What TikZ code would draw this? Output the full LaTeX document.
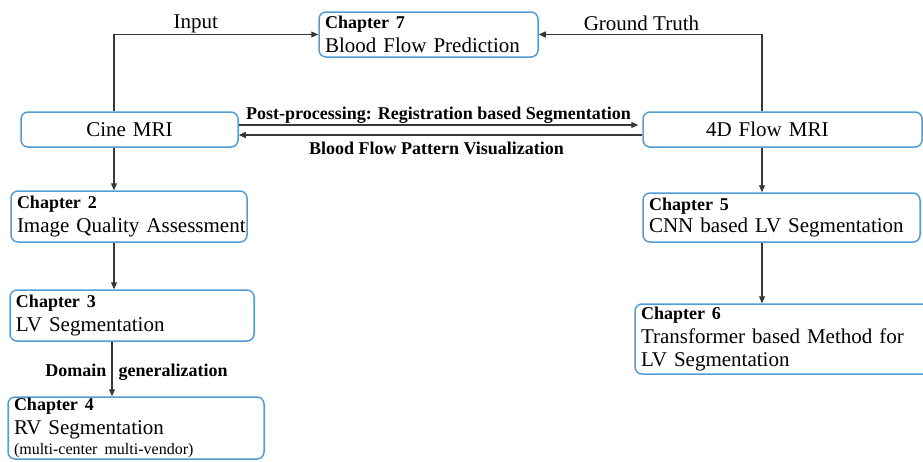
\documentclass[tikz,border=0pt]{standalone}
\usepackage{fontspec}
\setmainfont{Liberation Serif}
\usetikzlibrary{arrows.meta}
\definecolor{boxblue}{RGB}{82,156,214}
\definecolor{arrgray}{RGB}{55,55,55}
\newcommand{\chaplbl}[1]{{\fontsize{18}{24}\selectfont\bfseries #1}}
\tikzset{
  chapbox/.style={draw=boxblue, line width=1.5pt, rounded corners=7pt, fill=white,
    inner xsep=6pt, inner ysep=0pt, align=left,
    font=\fontsize{21}{24}\selectfont},
  arr/.style={draw=arrgray, line width=1.2pt, -{Triangle[length=7pt,width=6pt]}},
  lbl/.style={font=\fontsize{18}{22}\selectfont\bfseries, inner sep=0pt},
  plainlbl/.style={font=\fontsize{21}{24}\selectfont, inner sep=0pt}
}
\begin{document}
\begin{tikzpicture}[x=1pt,y=-1pt]
\useasboundingbox (0,0) rectangle (923,461);
\clip (0,0) rectangle (923,461);

% boxes
\node[chapbox, minimum width=219pt, minimum height=45pt, text width=207pt] (c7) at (428.5,34.5)
  {\chaplbl{Chapter 7}\\Blood Flow Prediction};
\node[chapbox, minimum width=217pt, minimum height=35pt, text width=205pt, align=center] (cine) at (129.5,129.5)
  {Cine MRI};
\node[chapbox, minimum width=279pt, minimum height=35pt, text width=267pt] (flow) at (782.5,129.5)
  {\hspace*{57pt}4D Flow MRI};
\node[chapbox, minimum width=236pt, minimum height=51pt, text width=224pt] (c2) at (129,216.5)
  {\chaplbl{Chapter 2}\\\mbox{Image Quality Assessment}};
\node[chapbox, minimum width=244pt, minimum height=51pt, text width=232pt] (c3) at (132,315.5)
  {\chaplbl{Chapter 3}\\LV Segmentation};
\node[chapbox, minimum width=256pt, minimum height=62pt, text width=244pt] (c4) at (136,428)
  {\chaplbl{Chapter 4}\\RV Segmentation\\[-4pt]{\fontsize{16}{20}\selectfont (multi-center multi-vendor)}};
\node[chapbox, minimum width=277pt, minimum height=49pt, text width=265pt] (c5) at (781.5,217.5)
  {\chaplbl{Chapter 5}\\[-2pt]CNN based LV Segmentation};
\node[chapbox, minimum width=305pt, minimum height=70pt, text width=293pt] (c6) at (787.5,339)
  {\chaplbl{Chapter 6}\\Transformer based Method for\\[-1pt]LV Segmentation};

% helper coordinates
\coordinate (xin) at (114,0);
\coordinate (xgt) at (762,0);
\coordinate (ypp) at (0,125);
\coordinate (ybf) at (0,135);
\coordinate (xdg) at (112,0);

% connectors
\draw[arr] (cine.north -| xin) |- node[plainlbl, pos=0.7, above, yshift=0.5pt]{Input} (c7.west);
\draw[arr] (flow.north -| xgt) |- node[plainlbl, pos=0.77, above, yshift=3pt]{Ground Truth} (c7.east);
\draw[arr] (cine.east |- ypp) -- node[lbl, midway, above, yshift=1pt]{Post-processing: Registration based Segmentation} ([xshift=-4pt]flow.west |- ypp);
\draw[arr] (flow.west |- ybf) -- node[lbl, pos=0.51, below, yshift=-6pt]{Blood Flow Pattern Visualization} (cine.east |- ybf);
\draw[arr] (cine.south -| xin) -- (c2.north -| xin);
\draw[arr] (c2.south -| xin) -- (c3.north -| xin);
\draw[arr] (c3.south -| xdg) -- node[lbl, pos=0.64, anchor=base east, xshift=-5pt]{Domain}
  node[lbl, pos=0.64, anchor=base west, xshift=6pt]{generalization} (c4.north -| xdg);
\draw[arr] (flow.south -| xgt) -- (c5.north -| xgt);
\draw[arr] (c5.south -| xgt) -- (c6.north -| xgt);
\end{tikzpicture}
\end{document}
